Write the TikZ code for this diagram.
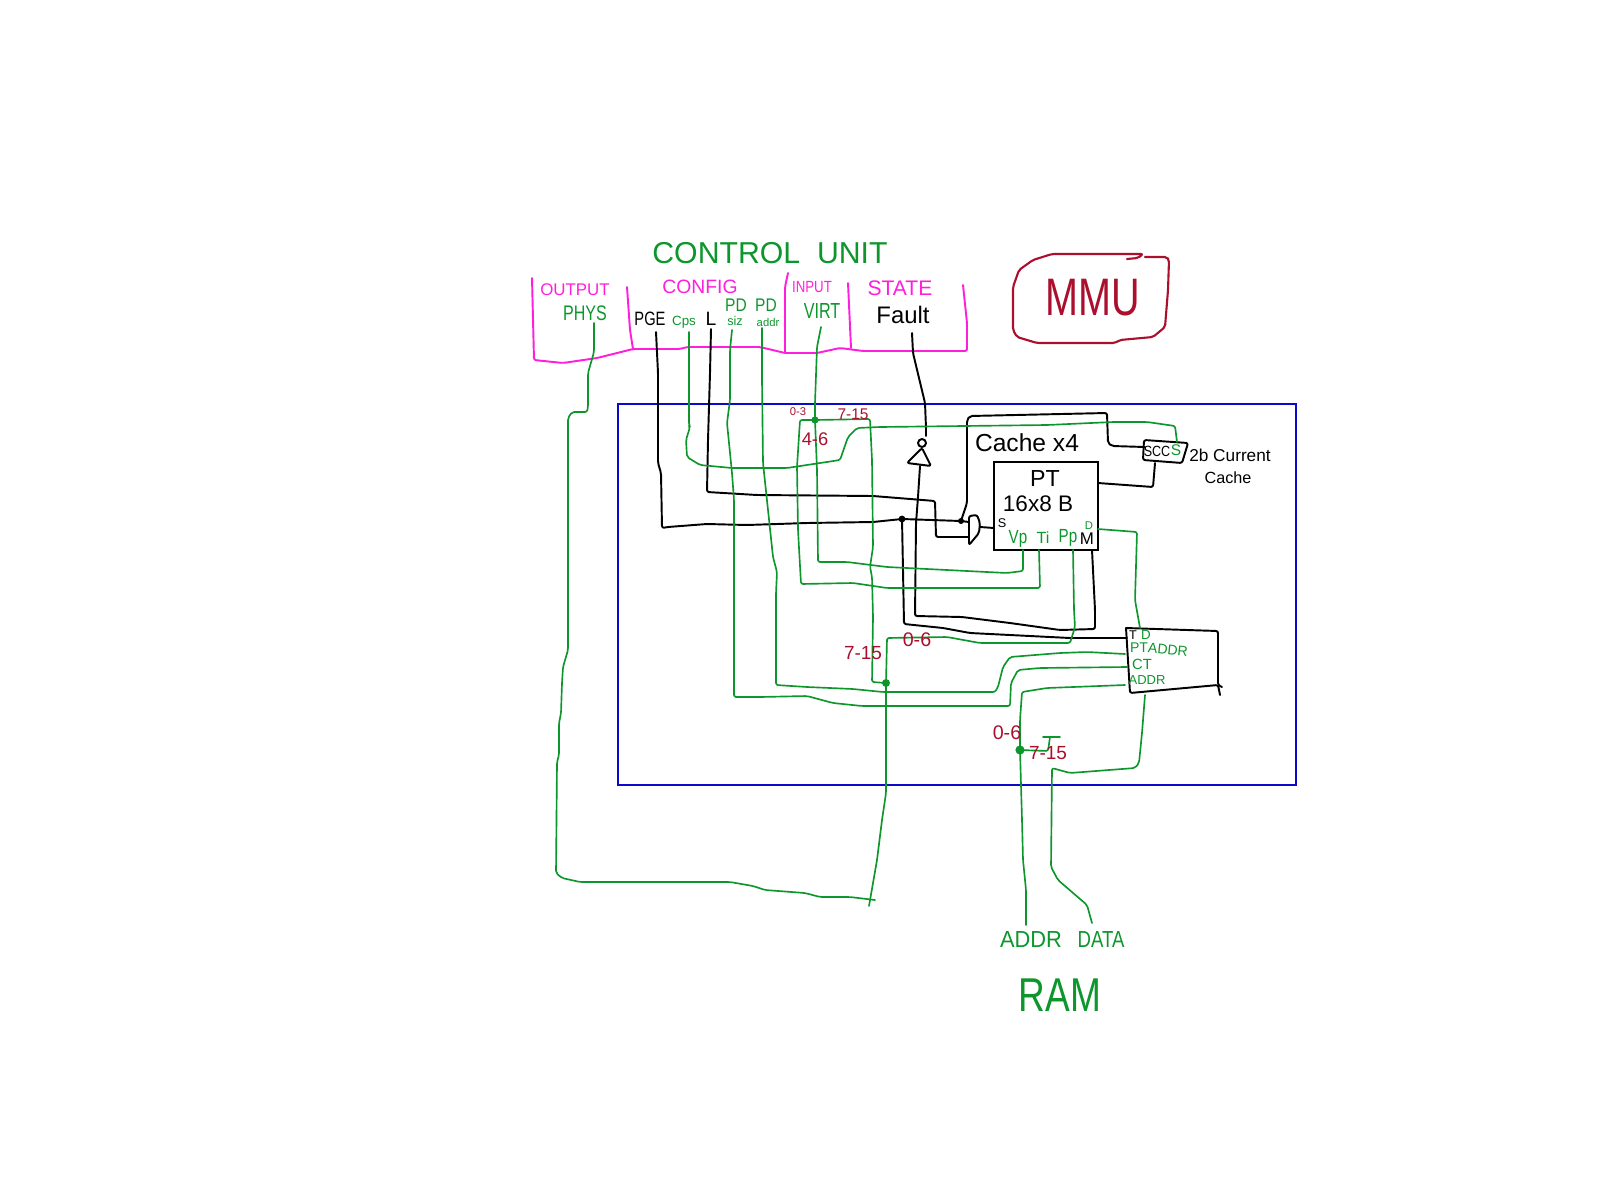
\documentclass[tikz,border=0pt]{standalone}
\usepackage{fontspec}
\setmainfont{Liberation Sans}
\usepackage{tikz}
\definecolor{wgreen}{RGB}{12,150,44}
\definecolor{wpink}{RGB}{255,30,220}
\definecolor{wblue}{RGB}{10,10,205}
\definecolor{wred}{RGB}{170,15,45}
\newcommand{\fsz}[1]{\fontsize{#1pt}{#1pt}\selectfont}
\tikzset{
  wire/.style={line width=0.47pt,line cap=round,line join=round,rounded corners=0.6pt},
  gwire/.style={wire,wgreen},
  bwire/.style={wire,black,line width=0.55pt},
  pink/.style={wire,wpink,line width=0.55pt},
  gtext/.style={text=wgreen},
  ptext/.style={text=wpink},
  rtext/.style={text=wred},
  nar/.style={xscale=#1,transform shape}}

\begin{document}
\begin{tikzpicture}[x=0.01cm,y=-0.01cm]
\tikzstyle{every node}+=[inner sep=0pt]
\useasboundingbox (0,0) rectangle (1600,1200);
% outer frame
\draw [wblue,line width=0.6pt] (618,404) rectangle (1296,785);
\node [gtext,font=\fsz{8.6}] (ctrl) at (770,253) {CONTROL\ \ UNIT};
% control unit
\draw [pink] (532,278) -- (534,360) -- (563,363) -- (597,358) -- (633,349) -- (680,349) -- (687,347) -- (760,347) -- (785,353) -- (817,353) -- (840,348) -- (863,351) -- (967,351) -- (967,323) -- (963,285);
\draw [pink] (627,287) -- (630,330) -- (633,349);
\draw [pink] (788,273) -- (785,287) -- (785,353);
\draw [pink] (848,283) -- (851,348);
\node [ptext,font=\fsz{4.8}] (output) at (575,290) {OUTPUT};
\node [ptext,font=\fsz{5.5}] (config) at (700,287) {CONFIG};
\node [ptext,font=\fsz{4.6},nar=0.82] (input) at (812,287) {INPUT};
\node [ptext,font=\fsz{6}] (state) at (900,288) {STATE};
\node [gtext,font=\fsz{6},nar=0.76] (phys) at (585,313) {PHYS};
\node [font=\fsz{5.5},nar=0.76] (pge) at (650,319) {PGE};
\node [gtext,font=\fsz{3.8}] (cps) at (684,322) {Cps};
\node [font=\fsz{5.5}] (ell) at (711,319) {L};
\node [gtext,font=\fsz{5.2},nar=0.85] (pdsiz) at (736,305) {PD};
\node [gtext,font=\fsz{3.6}] (siz) at (735,321) {siz};
\node [gtext,font=\fsz{5.2},nar=0.85] (pdaddr) at (766,305) {PD};
\node [gtext,font=\fsz{3.2}] (addr) at (768,322) {addr};
\node [gtext,font=\fsz{6.2},nar=0.74] (virt) at (822,311) {VIRT};
\node [font=\fsz{6.8}] (fault) at (903,315) {Fault};
\coordinate (physp) at (594,323);
\coordinate (pgep) at (656,332);
\coordinate (cpsp) at (689,332);
\coordinate (ellp) at (711,329);
\coordinate (sizp) at (732,330);
\coordinate (addrp) at (762,328);
\coordinate (virtp) at (821,327);
\coordinate (faultp) at (912,333);
% mmu tag
\draw [wire,wred,line width=0.6pt] (1127,259) -- (1138,258) -- (1143,254) -- (1052,254) -- (1033,260) -- (1019,270) -- (1013,287) -- (1013,330) -- (1017,337) -- (1037,343) -- (1115,343) -- (1120,340) -- (1153,337) -- (1165,327) -- (1168,290) -- (1169,260) -- (1167,257) -- (1145,257);
\node [rtext,font=\fsz{15},nar=0.75] (mmu) at (1093,298) {MMU};
% cache
\node [draw,line width=0.55pt,minimum width=1.04cm,minimum height=0.88cm] (pt) at (1046,506) {};
\node [font=\fsz{6.6}] (ptname) at (1045,479) {PT};
\node [font=\fsz{6.4}] (ptsize) at (1038,504) {16x8 B};
\node [font=\fsz{7}] (cache) at (1027,443) {Cache x4};
\node [font=\fsz{3.6}] (ptsel) at (1002,523) {S};
\node [gtext,font=\fsz{5.4},nar=0.8] (vp) at (1018,539) {Vp};
\node [gtext,font=\fsz{4.6}] (ti) at (1043,538) {Ti};
\node [gtext,font=\fsz{5.4},nar=0.8] (pp) at (1068,538) {Pp};
\node [font=\fsz{4.8}] (mm) at (1087,539) {M};
\node [gtext,font=\fsz{3.2}] (dd) at (1089,526) {D};
\coordinate (vpp) at (1023,550);
\coordinate (tip) at (1039,550);
\coordinate (ppp) at (1073,550);
\coordinate (mp) at (1092,550);
\coordinate (dp) at (1098,529);
\coordinate (ptin) at (994,528);
\coordinate (ptsc) at (1098,483);
% scc
\draw [bwire] (1144,440) -- (1188,443) -- (1182,463) -- (1143,460) -- cycle;
\node [font=\fsz{4.2},nar=0.85] (scc) at (1157,451) {SCC};
\node [gtext,font=\fsz{4.4}] (sccs) at (1176,450) {S};
\node [font=\fsz{4.9}] (cur) at (1230,455) {2b Current};
\node [font=\fsz{4.6}] (curb) at (1228,478) {Cache};
\coordinate (sccl) at (1145,447);
\coordinate (sccb) at (1155,463);
\coordinate (scct) at (1177,442);
% gate and inverter
\draw [bwire] (969,516) -- (977,515) -- (980,523) -- (979,533) -- (969,545) -- cycle;
\coordinate (gatea) at (969,522);
\coordinate (gateb) at (969,537);
\coordinate (gateo) at (980,527);
\draw [bwire] (922,443) circle (4);
\draw [bwire] (922,448) -- (907,463) -- (931,466) -- cycle;
\coordinate (invi) at (926,436);
\coordinate (invo) at (920,466);
% tlb box
\draw [bwire] (1126,628) -- (1187,630) -- (1218,631) -- (1218,685) -- (1222,687);
\draw [bwire] (1220,695) -- (1218,685) -- (1130,693) -- (1126,628);
\node [font=\fsz{3.6}] (tdt) at (1133,635) {T};
\node [gtext,font=\fsz{3.8}] (tdd) at (1146,635) {D};
\node [gtext,font=\fsz{4}] (tdpt) at (1139,648) {PT};
\node [gtext,font=\fsz{4},rotate=-6] (tdaddr) at (1168,650) {ADDR};
\node [gtext,font=\fsz{4.2}] (tdct) at (1142,664) {CT};
\node [gtext,font=\fsz{3.7}] (tdram) at (1147,680) {ADDR};
\coordinate (tdtp) at (1127,638);
\coordinate (tddp) at (1140,628);
\coordinate (tdap) at (1125,654);
\coordinate (tdcp) at (1127,667);
\coordinate (tdrp) at (1125,685);
\coordinate (tdbp) at (1145,695);
% junctions
\fill [wgreen] (815,420) circle (3.6) coordinate (jvirt);
\fill [wgreen] (886,683) circle (4) coordinate (jphys);
\fill [wgreen] (1020,750) circle (4.6) coordinate (jram);
\fill [black] (902,519) circle (3.4) coordinate (jpge);
\fill [black] (961,521) circle (3) coordinate (jsel);
% ram
\node [gtext,font=\fsz{6.6},nar=0.94] (ramaddr) at (1031,940) {ADDR};
\node [gtext,font=\fsz{6.6},nar=0.8] (ramdata) at (1101,940) {DATA};
\node [gtext,font=\fsz{13.5},nar=0.78] (ram) at (1060,995) {RAM};
\coordinate (ramap) at (1026,925);
\coordinate (ramdp) at (1092,923);
% black wires
\draw [bwire] (pgep) -- (658,373) -- (658,463) -- (661,473) -- (662,528) -- (668,527) -- (707,524) -- (747,525) -- (807,523) -- (873,522) -- (jpge);
\draw [bwire] (jpge) -- (jsel) -- (gatea);
\draw [bwire] (ellp) -- (710,373) -- (708,440) -- (707,492) -- (757,495) -- (873,496) -- (935,501) -- (936,537) -- (gateb);
\draw [bwire] (faultp) -- (913,353) -- (925,403) -- (926,428) -- (invi);
\draw [bwire] (gateo) -- (ptin);
\draw [bwire] (jsel) -- (967,503) -- (967,420) -- (970,416) -- (1107,413) -- (1108,443) -- (1112,446) -- (sccl);
\draw [bwire] (sccb) -- (1153,487) -- (ptsc);
\draw [bwire] (jpge) -- (903,570) -- (904,624) -- (943,628) -- (970,633) -- (1070,638) -- (tdtp);
\draw [bwire] (mp) -- (1095,610) -- (1095,629) -- (1060,630) -- (1010,623) -- (962,617) -- (915,616) -- (916,523) -- (918,497) -- (invo);
% green wires
\draw [gwire] (physp) -- (594,352) -- (588,373) -- (588,407) -- (587,412) -- (572,412) -- (568,418) -- (568,650) -- (563,667) -- (562,683) -- (561,713) -- (559,723) -- (559,755) -- (557,762) -- (556,873) -- (562,878) -- (580,882) -- (730,882) -- (753,886) -- (765,890) -- (805,893) -- (820,897) -- (850,897) -- (875,900);
\draw [gwire] (jphys) -- (886,793) -- (882,820) -- (877,860) -- (869,906);
\draw [gwire] (cpsp) -- (689,425) -- (690,427) -- (686,440) -- (687,457) -- (700,465) -- (732,468) -- (787,468) -- (840,460) -- (848,437) -- (857,428) -- (880,427) -- (1047,425) -- (1113,422) -- (1147,422) -- (1175,426) -- (scct);
\draw [gwire] (sizp) -- (730,350) -- (730,400) -- (727,423) -- (732,473) -- (734,500) -- (734,697) -- (760,697) -- (807,696) -- (833,703) -- (862,706) -- (1010,706) -- (1011,683) -- (1018,670) -- (1040,668) -- (tdcp);
\draw [gwire] (addrp) -- (762,380) -- (763,463) -- (768,510) -- (773,557) -- (777,572) -- (776,593) -- (776,685) -- (807,687) -- (853,689) -- (883,692) -- (995,692) -- (998,687) -- (1003,667) -- (1010,657) -- (1060,653) -- (1087,652) -- (tdap);
\draw [gwire] (virtp) -- (817,347) -- (815,403) -- (jvirt);
\draw [gwire] (jvirt) -- (817,470) -- (818,562) -- (847,562) -- (887,567) -- (947,570) -- (1007,573) -- (1023,571) -- (vpp);
\draw [gwire] (jvirt) -- (800,420) -- (797,467) -- (798,530) -- (801,584) -- (853,583) -- (887,588) -- (1040,588) -- (tip);
\draw [gwire] (jvirt) -- (870,419) -- (872,460) -- (873,547) -- (870,567) -- (872,577) -- (873,617) -- (872,682) -- (jphys);
\draw [gwire] (jphys) -- (887,638) -- (947,637) -- (980,643) -- (1070,643) -- (1075,627) -- (1074,610) -- (ppp);
\draw [gwire] (dp) -- (1137,532) -- (1135,600) -- (tddp);
\draw [gwire] (tdrp) -- (1047,688) -- (1022,692) -- (1020,720) -- (jram);
\draw [gwire] (jram) -- (1022,820) -- (1023,860) -- (1026,890) -- (ramap);
\draw [gwire] (jram) -- (1048,751) -- (1050,737);
\draw [gwire] (1043,737) -- (1060,737);
\draw [gwire] (tdbp) -- (1142,733) -- (1139,763) -- (1135,768) -- (1070,773) -- (1052,768) -- (1051,867) -- (1058,880) -- (1087,905) -- (ramdp);
% bit ranges
\node [rtext,font=\fsz{3.2}] (ra) at (798,412) {0-3};
\node [rtext,font=\fsz{4.4}] (rb) at (853,414) {7-15};
\node [rtext,font=\fsz{5.2}] (rc) at (815,439) {4-6};
\node [rtext,font=\fsz{5.4}] (rd) at (863,653) {7-15};
\node [rtext,font=\fsz{5.6}] (re) at (917,640) {0-6};
\node [rtext,font=\fsz{5.6}] (rf) at (1007,733) {0-6};
\node [rtext,font=\fsz{5.4}] (rg) at (1048,753) {7-15};
\end{tikzpicture}
\end{document}
